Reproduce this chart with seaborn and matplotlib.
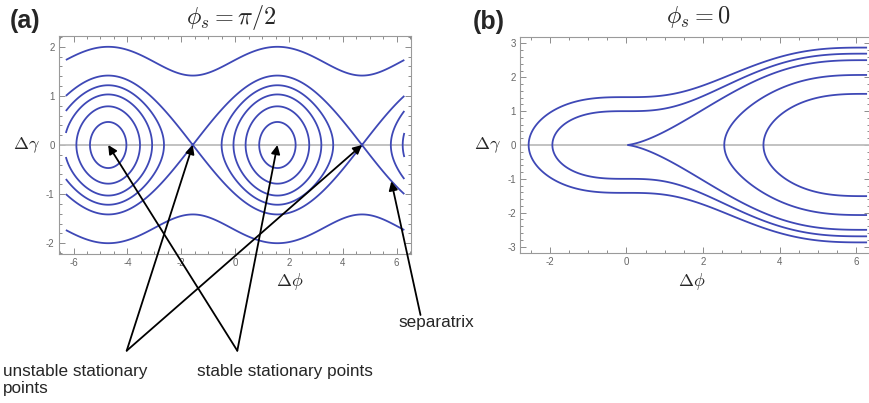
import numpy as np
import matplotlib
matplotlib.use("Agg")
import matplotlib.pyplot as plt
from matplotlib.ticker import MultipleLocator
import seaborn as sns

# ---------------- data ----------------
panel_tags = ["(a)", "(b)"]
panel_titles = [r"$\phi_s = \pi/2$", r"$\phi_s = 0$"]

levels_a = [-0.78, -0.38, 0.06, 0.48, 1.0, 3.0]
levels_b = [-4.0, -2.0, 0.0, 1.0, 2.0]

# plotted region of each panel
phi_range_a = [-2 * np.pi, 2 * np.pi]
gamma_range_a = [-2.15, 2.15]
phi_range_b = [-2.65, 2 * np.pi]
gamma_range_b = [-3.1, 3.1]

xlim_a = [-6.55, 6.52]
ylim_a = [-2.22, 2.22]
xlim_b = [-2.78, 6.36]
ylim_b = [-3.2, 3.2]

xticks_a = [-6, -4, -2, 0, 2, 4, 6]
yticks_a = [-2, -1, 0, 1, 2]
xticks_b = [-2, 0, 2, 4, 6]
yticks_b = [-3, -2, -1, 0, 1, 2, 3]

# annotated points (data coords of panel a)
unstable_pts = [(-np.pi / 2, 0.0), (3 * np.pi / 2, 0.0)]
stable_pts = [(-3 * np.pi / 2, 0.0), (np.pi / 2, 0.0)]
separatrix_pt = (5.8, -0.74)

annot_texts = ["unstable stationary", "points", "stable stationary points", "separatrix"]

LINE_COLOR = "#3e48b6"

# ---------------- style ----------------
sns.set_theme(style="ticks")
plt.rcParams["font.family"] = ["Liberation Sans", "DejaVu Sans"]
plt.rcParams["mathtext.fontset"] = "cm"
plt.rcParams["axes.unicode_minus"] = False

W, Hh = 870, 403
fig = plt.figure(figsize=(W / 100, Hh / 100), dpi=100)

def px_box(l, t, r, b):
    return [l / W, 1 - b / Hh, (r - l) / W, (b - t) / Hh]

ax_a = fig.add_axes(px_box(58.7, 36, 410.7, 254))
ax_b = fig.add_axes(px_box(520, 36.7, 870, 253.3))


def ham_a(phi, gam):
    return gam ** 2 - np.sin(phi)


def ham_b(phi, gam):
    return gam ** 2 - phi + np.sin(phi)


def style_axis(ax, xt, yt, xl, yl):
    ax.set_xlim(xl)
    ax.set_ylim(yl)
    ax.set_xticks(xt)
    ax.set_yticks(yt)
    ax.xaxis.set_minor_locator(MultipleLocator(0.5))
    ax.yaxis.set_minor_locator(MultipleLocator(0.2))
    ax.tick_params(which="both", direction="in", top=True, right=True,
                   color="#8c8c8c", width=0.7, labelsize=7,
                   labelcolor="#666666", pad=3)
    ax.tick_params(which="major", length=4)
    ax.tick_params(which="minor", length=2)
    for s in ax.spines.values():
        s.set_color("#9a9a9a")
        s.set_linewidth(0.8)
    ax.axhline(0, color="#bdbdbd", lw=1.3, zorder=1)


for ax, ham, pr, gr, lev in [
    (ax_a, ham_a, phi_range_a, gamma_range_a, levels_a),
    (ax_b, ham_b, phi_range_b, gamma_range_b, levels_b),
]:
    phi = np.linspace(pr[0], pr[1], 1400)
    gam = np.linspace(gr[0], gr[1], 1000)
    P, G = np.meshgrid(phi, gam)
    ax.contour(P, G, ham(P, G), levels=lev, colors=LINE_COLOR,
               linewidths=1.3, linestyles="solid", zorder=3)

style_axis(ax_a, xticks_a, yticks_a, xlim_a, ylim_a)
style_axis(ax_b, xticks_b, yticks_b, xlim_b, ylim_b)


def fpx(x, y):
    return (x, Hh - y)

# axis labels and titles (figure pixel positions)
for (tx, ty), tag in zip([(25, 21), (489, 22)], panel_tags):
    fig.text(*fpx(tx, ty), tag, fontsize=18, fontweight="bold",
             ha="center", va="center", transform=None)
for (tx, ty), ttl in zip([(231, 17), (698, 17)], panel_titles):
    fig.text(*fpx(tx, ty), ttl, fontsize=17.5, ha="center", va="center",
             transform=None)
for tx in [26, 487]:
    fig.text(*fpx(tx, 145), r"$\Delta\gamma$", fontsize=13, ha="center",
             va="center", transform=None)
for tx in [290, 692]:
    fig.text(*fpx(tx, 282), r"$\Delta\phi$", fontsize=13, ha="center",
             va="center", transform=None)

# annotations with arrows
arrow_kw = dict(arrowstyle="-|>", color="black", lw=1.3,
                mutation_scale=13, shrinkA=0, shrinkB=0)
for pt in unstable_pts:
    ax_a.annotate("", xy=pt, xycoords="data", xytext=fpx(126.7, 350.7),
                  textcoords="figure pixels", arrowprops=arrow_kw,
                  annotation_clip=False)
for pt in stable_pts:
    ax_a.annotate("", xy=pt, xycoords="data", xytext=fpx(237.3, 350.7),
                  textcoords="figure pixels", arrowprops=arrow_kw,
                  annotation_clip=False)
ax_a.annotate("", xy=separatrix_pt, xycoords="data", xytext=fpx(420.5, 315),
              textcoords="figure pixels", arrowprops=arrow_kw,
              annotation_clip=False)

TXT = 12.3
fig.text(*fpx(3, 376), annot_texts[0], fontsize=TXT, ha="left",
         va="baseline", transform=None)
fig.text(*fpx(3, 393), annot_texts[1], fontsize=TXT, ha="left",
         va="baseline", transform=None)
fig.text(*fpx(197, 376), annot_texts[2], fontsize=TXT, ha="left",
         va="baseline", transform=None)
fig.text(*fpx(398, 327), annot_texts[3], fontsize=TXT, ha="left",
         va="baseline", transform=None)

fig.savefig("out.png", dpi=100)
